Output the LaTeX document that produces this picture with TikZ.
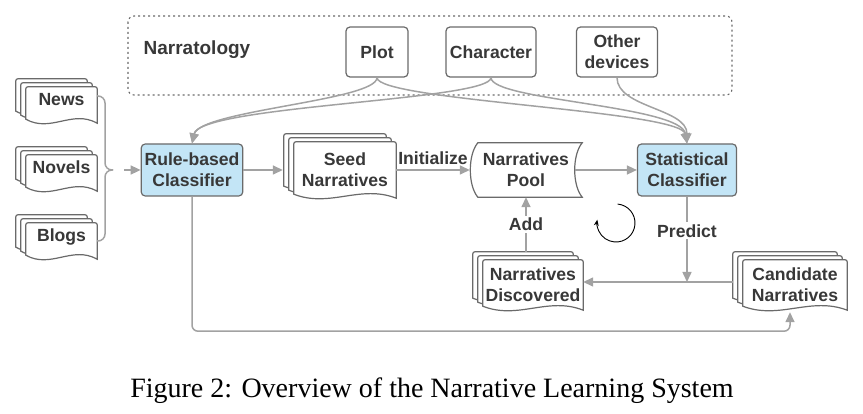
\documentclass[tikz,border=0pt]{standalone}
\usepackage{fontspec}
\setmainfont{Liberation Serif}
\setsansfont{Liberation Sans}
\usetikzlibrary{calc}
\usetikzlibrary{arrows.meta}
\usetikzlibrary{backgrounds}
\definecolor{linegray}{HTML}{A2A2A2}
\definecolor{edgegray}{HTML}{6A6A6A}
\definecolor{textgray}{HTML}{383838}
\definecolor{clsblue}{HTML}{C3E5F6}
\newcommand{\dfont}{\sffamily\bfseries\fontsize{17.6}{21}\selectfont}
\tikzstyle{flow}=[draw=linegray,line width=1.5pt,-{Triangle[length=10pt,width=9pt]}]
\tikzstyle{plainline}=[draw=linegray,line width=1.5pt]
\tikzstyle{box}=[draw=edgegray,line width=1.2pt,rounded corners=4pt,fill=white,font=\dfont,align=center,text=textgray]
\tikzstyle{classifier}=[box,fill=clsblue,minimum width=99pt,minimum height=52pt]
\tikzstyle{plaintext}=[font=\dfont,text=textgray]
\tikzstyle{doc}=[font=\dfont,align=center,text=textgray,inner sep=0pt]
\tikzstyle{srcdoc}=[doc,minimum width=71pt,minimum height=36pt,text height=9pt,text depth=7pt]
\tikzstyle{docline}=[draw=edgegray,line width=1.2pt,fill=white]
\tikzstyle{flowlabel}=[font=\dfont,text=textgray,fill=white,inner sep=2pt]
\newcommand{\drawstack}[1]{
\begin{scope}[on background layer]
  \foreach \o in {10,5,0} {
    \draw[docline] let \p1 = (#1.north west), \p2 = (#1.south east) in
      (\x1-\o*1pt, \y2+\o*0.8pt+4pt) [rounded corners=2pt] -- (\x1-\o*1pt, \y1+\o*0.8pt)
      -- (\x2-\o*1pt, \y1+\o*0.8pt) [sharp corners] -- (\x2-\o*1pt, \y2+\o*0.8pt)
      .. controls ({0.35*\x1+0.65*\x2-\o*1pt}, {\y2+\o*0.8pt+14pt}) and ({0.65*\x1+0.35*\x2-\o*1pt}, {\y2+\o*0.8pt-10pt}) .. (\x1-\o*1pt, \y2+\o*0.8pt+4pt) -- cycle;
  }
\end{scope}
}

\begin{document}
\begin{tikzpicture}[x=1pt,y=-1pt]
  \useasboundingbox (0,0) rectangle (863,414);
  % narratology group
  \draw[draw=edgegray, line width=1.1pt, dash pattern=on 2pt off 3pt, rounded corners=6pt] (128,16) rectangle (732,95);
  \node[plaintext, font=\sffamily\bfseries\fontsize{19}{21}\selectfont] (narr) at (197,50) {Narratology};
  \node[box,minimum width=62pt,minimum height=50pt] (plot) at (377,52) {Plot};
  \node[box,minimum width=90pt,minimum height=50pt] (char) at (491,52) {Character};
  \node[box,minimum width=81pt,minimum height=50pt] (other) at (617,52) {Other\\devices};

  % sources
  \node[srcdoc] (news) at (61.5,105) {News};
  \node[srcdoc] (novels) at (61.5,173) {Novels};
  \node[srcdoc] (blogs) at (61.5,241) {Blogs};
  \drawstack{news}
  \drawstack{novels}
  \drawstack{blogs}

  % main row
  \node[classifier] (rule) at (192,170) {Rule-based\\Classifier};
  \node[doc,minimum width=102pt,minimum height=56pt] (seed) at (345,170) {Seed\\Narratives};
  \node[doc,minimum width=112pt,minimum height=54pt] (pool) at (526,170) {Narratives\\Pool};
  \node[classifier] (stat) at (687,170) {Statistical\\Classifier};
  \drawstack{seed}
  \begin{scope}[on background layer]
  \draw[docline] ([xshift=8pt]pool.north west) -- (pool.north east)
    .. controls +(-10,12) and +(-10,-12) .. (pool.south east) -- ([xshift=8pt]pool.south west)
    .. controls +(-10,-12) and +(-10,12) .. ([xshift=8pt]pool.north west) -- cycle;
  \end{scope}

  % lower row
  \node[doc,minimum width=100pt,minimum height=50pt] (disc) at (533,285) {Narratives\\Discovered};
  \node[doc,minimum width=104pt,minimum height=50pt] (cand) at (795,285) {Candidate\\Narratives};
  \drawstack{disc}
  \drawstack{cand}

  % narratology feeds the classifiers
  \draw[flow] (plot.south) .. controls +(0,23) and +(8,-33) .. (rule.north);
  \draw[flow] (plot.south) .. controls +(0,23) and +(-6,-33) .. (stat.north);
  \draw[flow] (char.south) .. controls +(0,23) and +(8,-38) .. (rule.north);
  \draw[flow] (char.south) .. controls +(0,23) and +(-6,-38) .. (stat.north);
  \draw[flow] (other.south) .. controls +(0,30) and +(0,-35) .. (stat.north);

  % brace
  \coordinate (bracemid) at (105,170);
  \coordinate (bracetip) at (113,170);
  \coordinate (feed) at (124,170);
  \draw[plainline, rounded corners=7pt] ([yshift=9pt]news.east) -| (bracemid) -- (bracetip);
  \draw[plainline, rounded corners=7pt] (blogs.east) -| (bracemid) -- (bracetip);
  \draw[flow] (feed) -- (rule.west);

  \draw[flow] (rule.east) -- ([xshift=-11pt]seed.west);
  \draw[flow] (seed.east) -- (pool.west) node[plaintext, midway, above=1pt] {Initialize};
  \draw[flow] ([xshift=-7.5pt]pool.east) -- (stat.west);

  \coordinate (candin) at ($(cand.west)+(-10,-3)$);
  \coordinate (disctop) at ($(disc.north)+(0,-8)$);
  \draw[flow] (stat.south) -- (stat.south |- candin) node[flowlabel, pos=0.4] {Predict};
  \draw[flow] (candin) -- (candin -| disc.east);
  \draw[flow] (disctop -| pool.south) -- (pool.south) node[flowlabel, midway] {Add};
  \draw[flow, rounded corners=6pt] (rule.south) |- ($(cand.south)+(-5,21)$) -- ($(cand.south)+(-5,2)$);

  % iteration loop
  \coordinate (loopc) at (616,223);
  \draw[-{Stealth[length=6pt,width=5pt]}, line width=0.9pt, black, y=1pt] (loopc) ++(85:19) arc[start angle=85, end angle=-190, radius=19];

  \node[font=\fontsize{28}{32}\selectfont] (caption) at (432,391) {Figure 2: Overview of the Narrative Learning System};
\end{tikzpicture}
\end{document}
